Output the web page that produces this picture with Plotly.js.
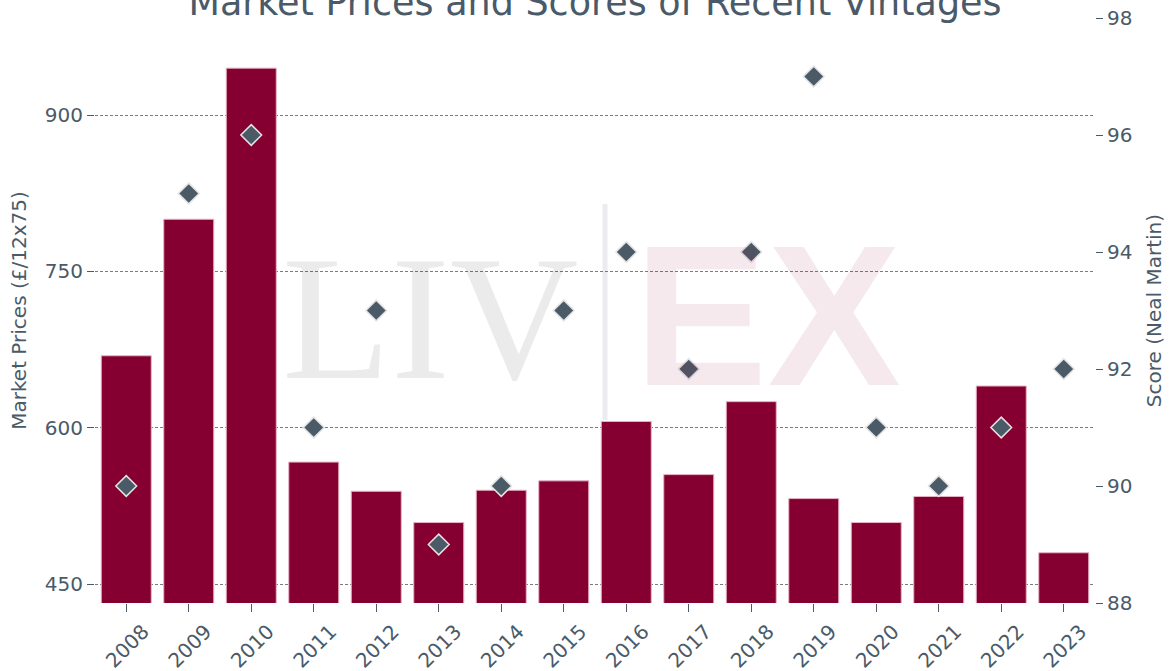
<!DOCTYPE html>
<html>
<head>
<meta charset="utf-8">
<script src="https://cdn.plot.ly/plotly-3.0.1.min.js"></script>
<style>html,body{margin:0;padding:0;background:#fff;}#chart{width:1170px;height:671px;}</style>
</head>
<body>
<div id="chart"></div>
<script>
const vintages = ['2008','2009','2010','2011','2012','2013','2014','2015','2016','2017','2018','2019','2020','2021','2022','2023'];
const marketPrices = [669, 800, 945, 567, 539, 509, 540, 549, 606, 555, 625, 532, 509, 534, 640, 480];
const scores = [90, 95, 96, 91, 93, 89, 90, 93, 94, 92, 94, 97, 91, 90, 91, 92];
const priceTicks = [450, 600, 750, 900];
const scoreTicks = [88, 90, 92, 94, 96, 98];

const textColor = '#4a5a68';
const font = 'DejaVu Sans, sans-serif';

const traces = [
  {
    type: 'bar', x: vintages, y: marketPrices, name: 'Market Prices',
    marker: {color: '#850030', line: {color: '#e6b3c3', width: 1}},
    width: 0.8, yaxis: 'y', hoverinfo: 'x+y'
  },
  {
    type: 'scatter', mode: 'markers', x: vintages, y: scores, name: 'Score',
    yaxis: 'y2',
    marker: {symbol: 'diamond', size: 16, color: '#4b5a67', line: {color: '#e4e4e4', width: 1.5}}
  }
];

const layout = {
  width: 1170, height: 671,
  margin: {l: 95, r: 75, t: 18, b: 68},
  paper_bgcolor: '#ffffff', plot_bgcolor: '#ffffff',
  showlegend: false,
  font: {family: font, color: textColor, size: 20},
  title: {
    text: 'Market Prices and Scores of Recent Vintages',
    font: {family: font, size: 36.5, color: textColor},
    x: 0.5, xref: 'paper', y: 0.997, yref: 'container', yanchor: 'middle'
  },
  bargap: 0.2,
  xaxis: {
    type: 'category', range: [-0.5, 15.5],
    tickangle: -45, ticks: 'outside', ticklen: 8, tickcolor: textColor,
    tickfont: {family: font, size: 20, color: textColor},
    ticklabelshift: 17, ticklabelstandoff: 0,
    showgrid: false, showline: false, zeroline: false
  },
  yaxis: {
    range: [431.8, 993.1], tickvals: priceTicks,
    ticks: 'outside', ticklen: 7, tickcolor: textColor,
    tickfont: {family: font, size: 20, color: textColor},
    showgrid: true, gridcolor: '#5a5a5a', griddash: '3px,2px', gridwidth: 0.8,
    showline: false, zeroline: false,
    title: {text: 'Market Prices (£/12x75)', font: {family: font, size: 20, color: textColor}, standoff: 12}
  },
  yaxis2: {
    overlaying: 'y', side: 'right', range: [88, 98], tickvals: scoreTicks,
    ticks: 'outside', ticklen: 7, tickcolor: textColor,
    tickfont: {family: font, size: 20, color: textColor},
    showgrid: false, showline: false, zeroline: false,
    title: {text: 'Score (Neal Martin)', font: {family: font, size: 20, color: textColor}, standoff: 15}
  },
  shapes: [
    {type: 'line', xref: 'paper', yref: 'paper', x0: 0.51, x1: 0.51, y0: 0.313, y1: 0.682,
     line: {color: '#ececef', width: 5}, layer: 'below'}
  ],
  annotations: [
    {text: 'LIV', xref: 'paper', yref: 'paper', x: 0.335, y: 0.488, xanchor: 'center', yanchor: 'middle',
     showarrow: false, font: {family: 'Liberation Serif, serif', size: 178, color: 'rgba(0,0,0,0.08)'}},
    {text: '<b>EX</b>', xref: 'paper', yref: 'paper', x: 0.672, y: 0.491, xanchor: 'center', yanchor: 'middle',
     showarrow: false, font: {family: 'Liberation Sans, sans-serif', size: 200, color: 'rgba(135,0,48,0.085)'}}
  ]
};

Plotly.newPlot('chart', traces, layout, {displayModeBar: false, staticPlot: true});
</script>
</body>
</html>
